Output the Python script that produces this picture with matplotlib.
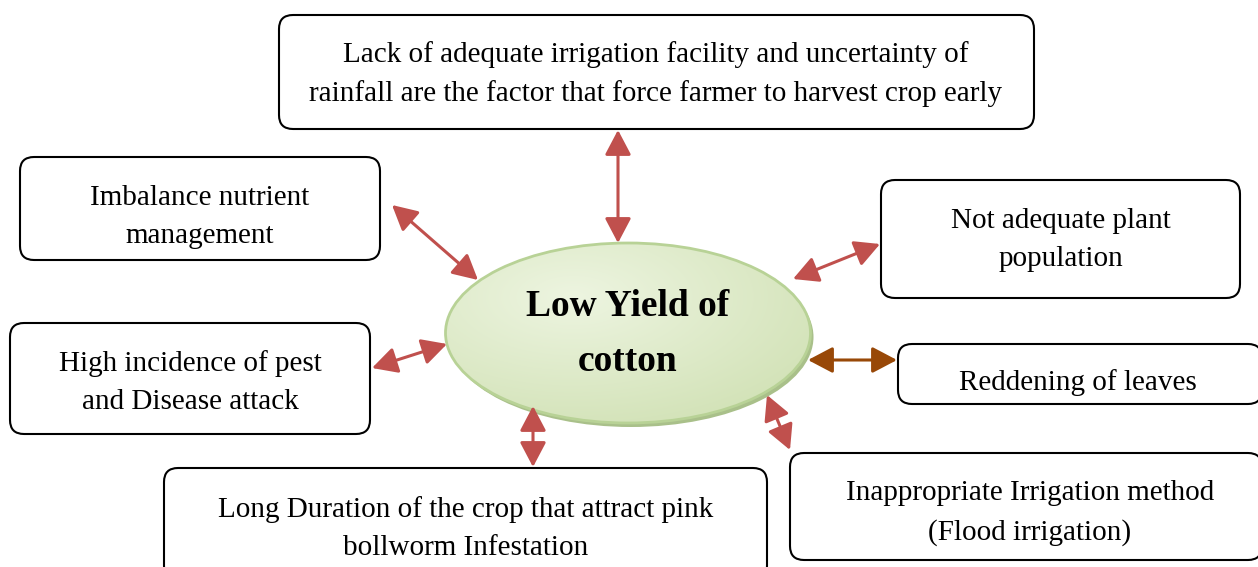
import matplotlib
matplotlib.use("Agg")
import matplotlib.pyplot as plt
import numpy as np
from matplotlib.patches import FancyBboxPatch, Ellipse, FancyArrowPatch, Rectangle

# ---- content ----
center_label = "Low Yield of\ncotton"
box_labels = [
    "Lack of adequate irrigation facility and uncertainty of\nrainfall are the factor that force farmer to harvest crop early",
    "Imbalance nutrient\nmanagement",
    "Not adequate plant\npopulation",
    "High incidence of pest\nand Disease attack",
    "Reddening of leaves",
    "Long Duration of the crop that attract pink\nbollworm Infestation",
    "Inappropriate Irrigation method\n(Flood irrigation)",
]

# ---- layout (pixel coords) ----
box_rects = [  # x0, y0, x1, y1
    (279, 15, 1034, 129),
    (20, 157, 380, 260),
    (881, 180, 1240, 298),
    (10, 323, 370, 434),
    (898, 344, 1262, 404),
    (164, 468, 767, 580),
    (790, 453, 1262, 560),
]
text_pos = [
    (656, 74), (200, 217), (1061, 240), (190, 383),
    (1078, 383), (466, 529), (1030, 513),
]
arrows = [  # (x0,y0,x1,y1,color)
    (618, 130, 618, 243, "#c0504d"),
    (392, 205, 478, 280, "#c0504d"),
    (880, 244, 793, 279, "#c0504d"),
    (372, 368, 447, 344, "#c0504d"),
    (808, 360, 897, 360, "#984807"),
    (533, 406, 533, 467, "#c0504d"),
    (767, 395, 790, 450, "#c0504d"),
]

W, H = 1258, 567
fig = plt.figure(figsize=(W / 100, H / 100), dpi=100)
ax = fig.add_axes([0, 0, 1, 1])
ax.set_xlim(0, W)
ax.set_ylim(H, 0)
ax.axis("off")

serif = ["Liberation Serif", "DejaVu Serif"]

# boxes
for (x0, y0, x1, y1) in box_rects:
    r = 14
    p = FancyBboxPatch((x0 + r, y0 + r), (x1 - x0) - 2 * r, (y1 - y0) - 2 * r,
                       boxstyle=f"round,pad={r},rounding_size={r}",
                       fc="white", ec="black", lw=1.5, zorder=2)
    ax.add_patch(p)

for i, (lab, (tx, ty)) in enumerate(zip(box_labels, text_pos)):
    t = ax.text(tx, ty, lab, ha="center", va="center", fontsize=21,
                family=serif, linespacing=1.6, zorder=3)
    if i == 4:
        clip = Rectangle((0, 0), W, 391, transform=ax.transData)
        t.set_clip_path(clip)

# ellipse: shadow + gradient
cx, cy, ew, eh = 628, 333, 365, 180
shadow = Ellipse((cx + 3, cy + 4), ew, eh, fc="#a9c08a", ec="none", zorder=4)
ax.add_patch(shadow)
ell = Ellipse((cx, cy), ew, eh, fc="none", ec="#b8d296", lw=2, zorder=6)
ax.add_patch(ell)
yy, xx = np.mgrid[0:1:200j, 0:1:400j]
d = np.sqrt(((xx - 0.35) / 1.0) ** 2 + ((yy - 0.3) / 1.0) ** 2)
d = d / d.max()
c0 = np.array([0.93, 0.96, 0.88])
c1 = np.array([0.80, 0.87, 0.68])
img = c0[None, None, :] * (1 - d[..., None]) + c1[None, None, :] * d[..., None]
im = ax.imshow(img, extent=(cx - ew / 2, cx + ew / 2, cy + eh / 2, cy - eh / 2),
               zorder=5, interpolation="bilinear")
clip_e = Ellipse((cx, cy), ew, eh, transform=ax.transData, fc="none")
im.set_clip_path(clip_e)
ax.set_xlim(0, W)
ax.set_ylim(H, 0)
ax.set_aspect("auto")

ax.text(cx, cy + 1, center_label, ha="center", va="center", fontsize=27,
        fontweight="bold", family=serif, linespacing=1.75, zorder=7)

# arrows
for (x0, y0, x1, y1, col) in arrows:
    a = FancyArrowPatch((x0, y0), (x1, y1), arrowstyle="<|-|>,head_length=0.95,head_width=0.5",
                        mutation_scale=16, color=col, lw=2.2, shrinkA=0, shrinkB=0, zorder=8)
    ax.add_patch(a)

fig.savefig("out.png", dpi=100)
